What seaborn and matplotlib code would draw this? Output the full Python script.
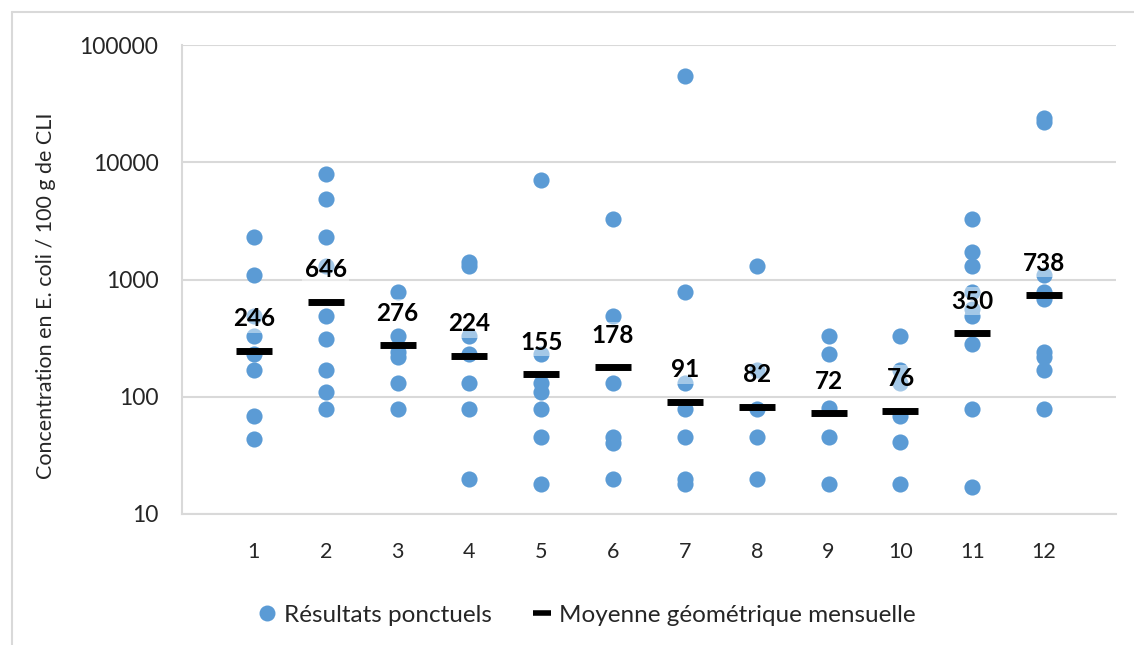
import numpy as np
import pandas as pd
import matplotlib
matplotlib.use("Agg")
import matplotlib.pyplot as plt
import seaborn as sns
from matplotlib.lines import Line2D
from matplotlib.ticker import FixedLocator, FixedFormatter, NullLocator

# monthly individual results (E. coli / 100 g CLI)
m1 = [2300, 1100, 490, 330, 230, 170, 68, 44]
m2 = [8000, 4900, 2300, 1300, 490, 310, 170, 110, 78]
m3 = [780, 330, 240, 220, 130, 78]
m4 = [1400, 1300, 330, 230, 130, 78, 20]
m5 = [7000, 230, 130, 110, 78, 45, 18]
m6 = [3300, 490, 130, 45, 40, 20]
m7 = [54000, 780, 130, 78, 45, 20, 18]
m8 = [1300, 170, 78, 45, 20]
m9 = [330, 230, 80, 45, 18]
m10 = [330, 170, 130, 68, 41, 18]
m11 = [3300, 1700, 1300, 780, 560, 490, 280, 78, 17]
m12 = [24000, 22000, 1100, 780, 680, 240, 220, 170, 78]
monthly = [m1, m2, m3, m4, m5, m6, m7, m8, m9, m10, m11, m12]

months = list(range(1, 13))
geo_means = [246, 646, 276, 224, 155, 178, 91, 82, 72, 76, 350, 738]

rows = []
for mo, vals in zip(months, monthly):
    for v in vals:
        rows.append({"mois": mo, "conc": v})
df = pd.DataFrame(rows)

sns.set_style("white")
plt.rcParams["font.family"] = ["Lato", "DejaVu Sans"]

blue = "#5B9BD5"
grid_c = "#d9d9d9"

fig = plt.figure(figsize=(11.34, 6.45), dpi=100)
ax = fig.add_axes([182 / 1134, 1 - 514 / 645, (1116 - 182) / 1134, (514 - 45) / 645])

sns.scatterplot(data=df, x="mois", y="conc", ax=ax, color=blue, s=135,
                linewidth=0, zorder=3, legend=False)
ax.plot(months, geo_means, linestyle="none", marker="_", color="black",
        markersize=26, markeredgewidth=5, zorder=5)

for mo, g in zip(months, geo_means):
    ax.annotate(str(g), (mo, g), xytext=(0, 23), textcoords="offset points",
                ha="center", va="center", fontsize=17.5, fontweight="bold",
                color="black", zorder=6,
                bbox=dict(boxstyle="square,pad=0.1", fc="white", ec="none", alpha=0.45))

ax.set_yscale("log")
ax.set_ylim(10, 100000)
ax.set_xlim(0, 13)
yt = [10, 100, 1000, 10000, 100000]
ax.yaxis.set_major_locator(FixedLocator(yt))
ax.yaxis.set_major_formatter(FixedFormatter([str(t) for t in yt]))
ax.yaxis.set_minor_locator(NullLocator())
ax.set_xticks(months)
ax.set_xticklabels([str(m) for m in months])
ax.tick_params(axis="y", length=0, pad=17, labelsize=16.5, colors="#262626")
ax.tick_params(axis="x", length=0, pad=20, labelsize=15.5, colors="#262626")

ax.grid(axis="y", color=grid_c, linewidth=1.5, zorder=0)
ax.set_axisbelow(True)
for side in ["top", "right"]:
    ax.spines[side].set_visible(False)
for side in ["left", "bottom"]:
    ax.spines[side].set_color(grid_c)
    ax.spines[side].set_linewidth(1.5)

ax.set_xlabel("")
ax.set_ylabel("Concentration en E. coli / 100 g de CLI", fontsize=15.5, color="#262626")
ax.yaxis.set_label_coords(-0.135, 0.465)

handles = [
    Line2D([], [], linestyle="none", marker="o", color=blue, markersize=11.5,
           markeredgewidth=0),
    Line2D([], [], linestyle="none", marker="_", color="black", markersize=13,
           markeredgewidth=4),
]
fig.legend(handles, ["Résultats ponctuels", "Moyenne géométrique mensuelle"],
           loc="center", bbox_to_anchor=(586 / 1134, 1 - 615 / 645), ncol=2,
           frameon=False, fontsize=17.5, handletextpad=0.25, columnspacing=1.6,
           handlelength=0.9)

# outer chart border (left and top edges visible)
fig.add_artist(Line2D([12 / 1134, 12 / 1134], [0, 1 - 12 / 645],
                      transform=fig.transFigure, color=grid_c, linewidth=1.5))
fig.add_artist(Line2D([12 / 1134, 1], [1 - 12 / 645, 1 - 12 / 645],
                      transform=fig.transFigure, color=grid_c, linewidth=1.5))

fig.savefig("out.png", dpi=100)
